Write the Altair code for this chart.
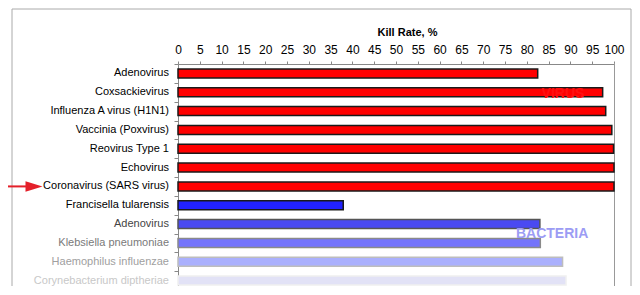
import altair as alt
import pandas as pd

names = ["Adenovirus", "Coxsackievirus", "Influenza A virus (H1N1)", "Vaccinia (Poxvirus)",
         "Reovirus Type 1", "Echovirus", "Coronavirus (SARS virus)", "Francisella tularensis",
         "Adenovirus", "Klebsiella pneumoniae", "Haemophilus influenzae", "Corynebacterium diptheriae"]
kill_rate = [82.5, 97.4, 98.1, 99.5, 99.9, 100, 100, 37.9, 83.0, 83.1, 88.2, 89.0]
group = ["virus"] * 7 + ["bacteria"] * 5
fill_colors = ["#ff0000"] * 7 + ["#2222ff", "#4a4af2", "#7474fb", "#aab0fd", "#e2e2f6"]
stroke_colors = ["#1a1a1a"] * 7 + ["#1a1a1a", "#555555", "#8a8a8a", "#bdbdbd", "#f0f0f0"]
label_colors = ["#000000"] * 8 + ["#444444", "#7a7a7a", "#a0a0a0", "#c8c8c8"]
x_ticks = list(range(0, 101, 5))

keys = [f"{i:02d}" for i in range(len(names))]
df = pd.DataFrame({"key": keys, "name": names, "rate": kill_rate, "group": group,
                   "fill": fill_colors, "stroke": stroke_colors, "lab": label_colors})

FONT = "Liberation Sans"
BAND_RANGE = 226

y_scale = alt.Scale(domain=keys, paddingInner=0, paddingOuter=0, range=[0, BAND_RANGE])
x_scale = alt.Scale(domain=[0, 100], nice=False)

y_axis = alt.Axis(labels=False, title=None, tickBand="extent", tickSize=4,
                  tickColor="#888888", domainColor="#888888", grid=False)
x_axis = alt.Axis(orient="top", values=x_ticks, labelFontSize=12, labelColor="#000000",
                  labelFont=FONT, tickSize=3, tickColor="#888888", domainColor="#888888",
                  labelPadding=5, labelOverlap=False, labelFlush=False, grid=False,
                  title="Kill Rate, %", titleFont=FONT, titleFontSize=11,
                  titleFontWeight="bold", titleX=229, titleY=-27, titleColor="#000000")


def Y():
    return alt.Y("key:N", sort=keys, scale=y_scale, axis=y_axis)


def X(field="rate"):
    return alt.X(f"{field}:Q", scale=x_scale, axis=x_axis)


bars = alt.Chart(df).mark_bar(size=9, strokeWidth=1.5).encode(
    x=X(), y=Y(),
    fill=alt.Fill("fill:N", scale=None),
    stroke=alt.Stroke("stroke:N", scale=None),
)

labels = alt.Chart(df).mark_text(align="right", baseline="middle", font=FONT, fontSize=11).encode(
    x=alt.value(-9), y=Y(), text="name:N", color=alt.Color("lab:N", scale=None),
)

ann_key = ["01", "08"]
ann_rate = [88.3, 85.8]
ann_text = ["VIRUS", "BACTERIA"]
ann_col = ["#ff1010", "#9c9cf4"]
ann = pd.DataFrame({"key": ann_key, "rate": ann_rate, "text": ann_text, "col": ann_col})

virus_txt = alt.Chart(ann.iloc[[0]]).mark_text(font=FONT, fontSize=14, fontWeight="bold", dy=2,
                                               baseline="middle").encode(
    x=X(), y=Y(), text="text:N", color=alt.Color("col:N", scale=None))
bact_txt = alt.Chart(ann.iloc[[1]]).mark_text(font=FONT, fontSize=14, fontWeight="bold", dy=9.5,
                                              baseline="middle").encode(
    x=X(), y=Y(), text="text:N", color=alt.Color("col:N", scale=None))

arrow_df = pd.DataFrame({"key": ["06"]})
shaft = alt.Chart(arrow_df).mark_rule(color="#e4202a", strokeWidth=2).encode(
    x=alt.value(-170), x2=alt.value(-150), y=Y())
head = alt.Chart(arrow_df).mark_point(
    shape="M -1 -0.62 L 1 0 L -1 0.62 Z", size=289, filled=True, color="#e4202a", opacity=1
).encode(x=alt.value(-144), y=Y())

frame = alt.Chart(arrow_df).mark_rect(fill=None, stroke="#aaaaaa", strokeWidth=1).encode(
    x=alt.value(-166), x2=alt.value(453), y=alt.value(-55), y2=alt.value(300))
right_border = alt.Chart(arrow_df).mark_rule(color="#999999", strokeWidth=1).encode(
    x=alt.value(436.5), y=alt.value(-1), y2=alt.value(BAND_RANGE))

chart = alt.layer(frame, right_border, bars, labels, virus_txt, bact_txt, shaft, head).properties(
    width=436, height=214, autosize="none",
    padding={"left": 170, "top": 56, "right": 18, "bottom": 8},
).configure_view(stroke=None).configure_axis(labelFont=FONT)

chart.save("out.html", embed_options={"renderer": "svg", "actions": False})
